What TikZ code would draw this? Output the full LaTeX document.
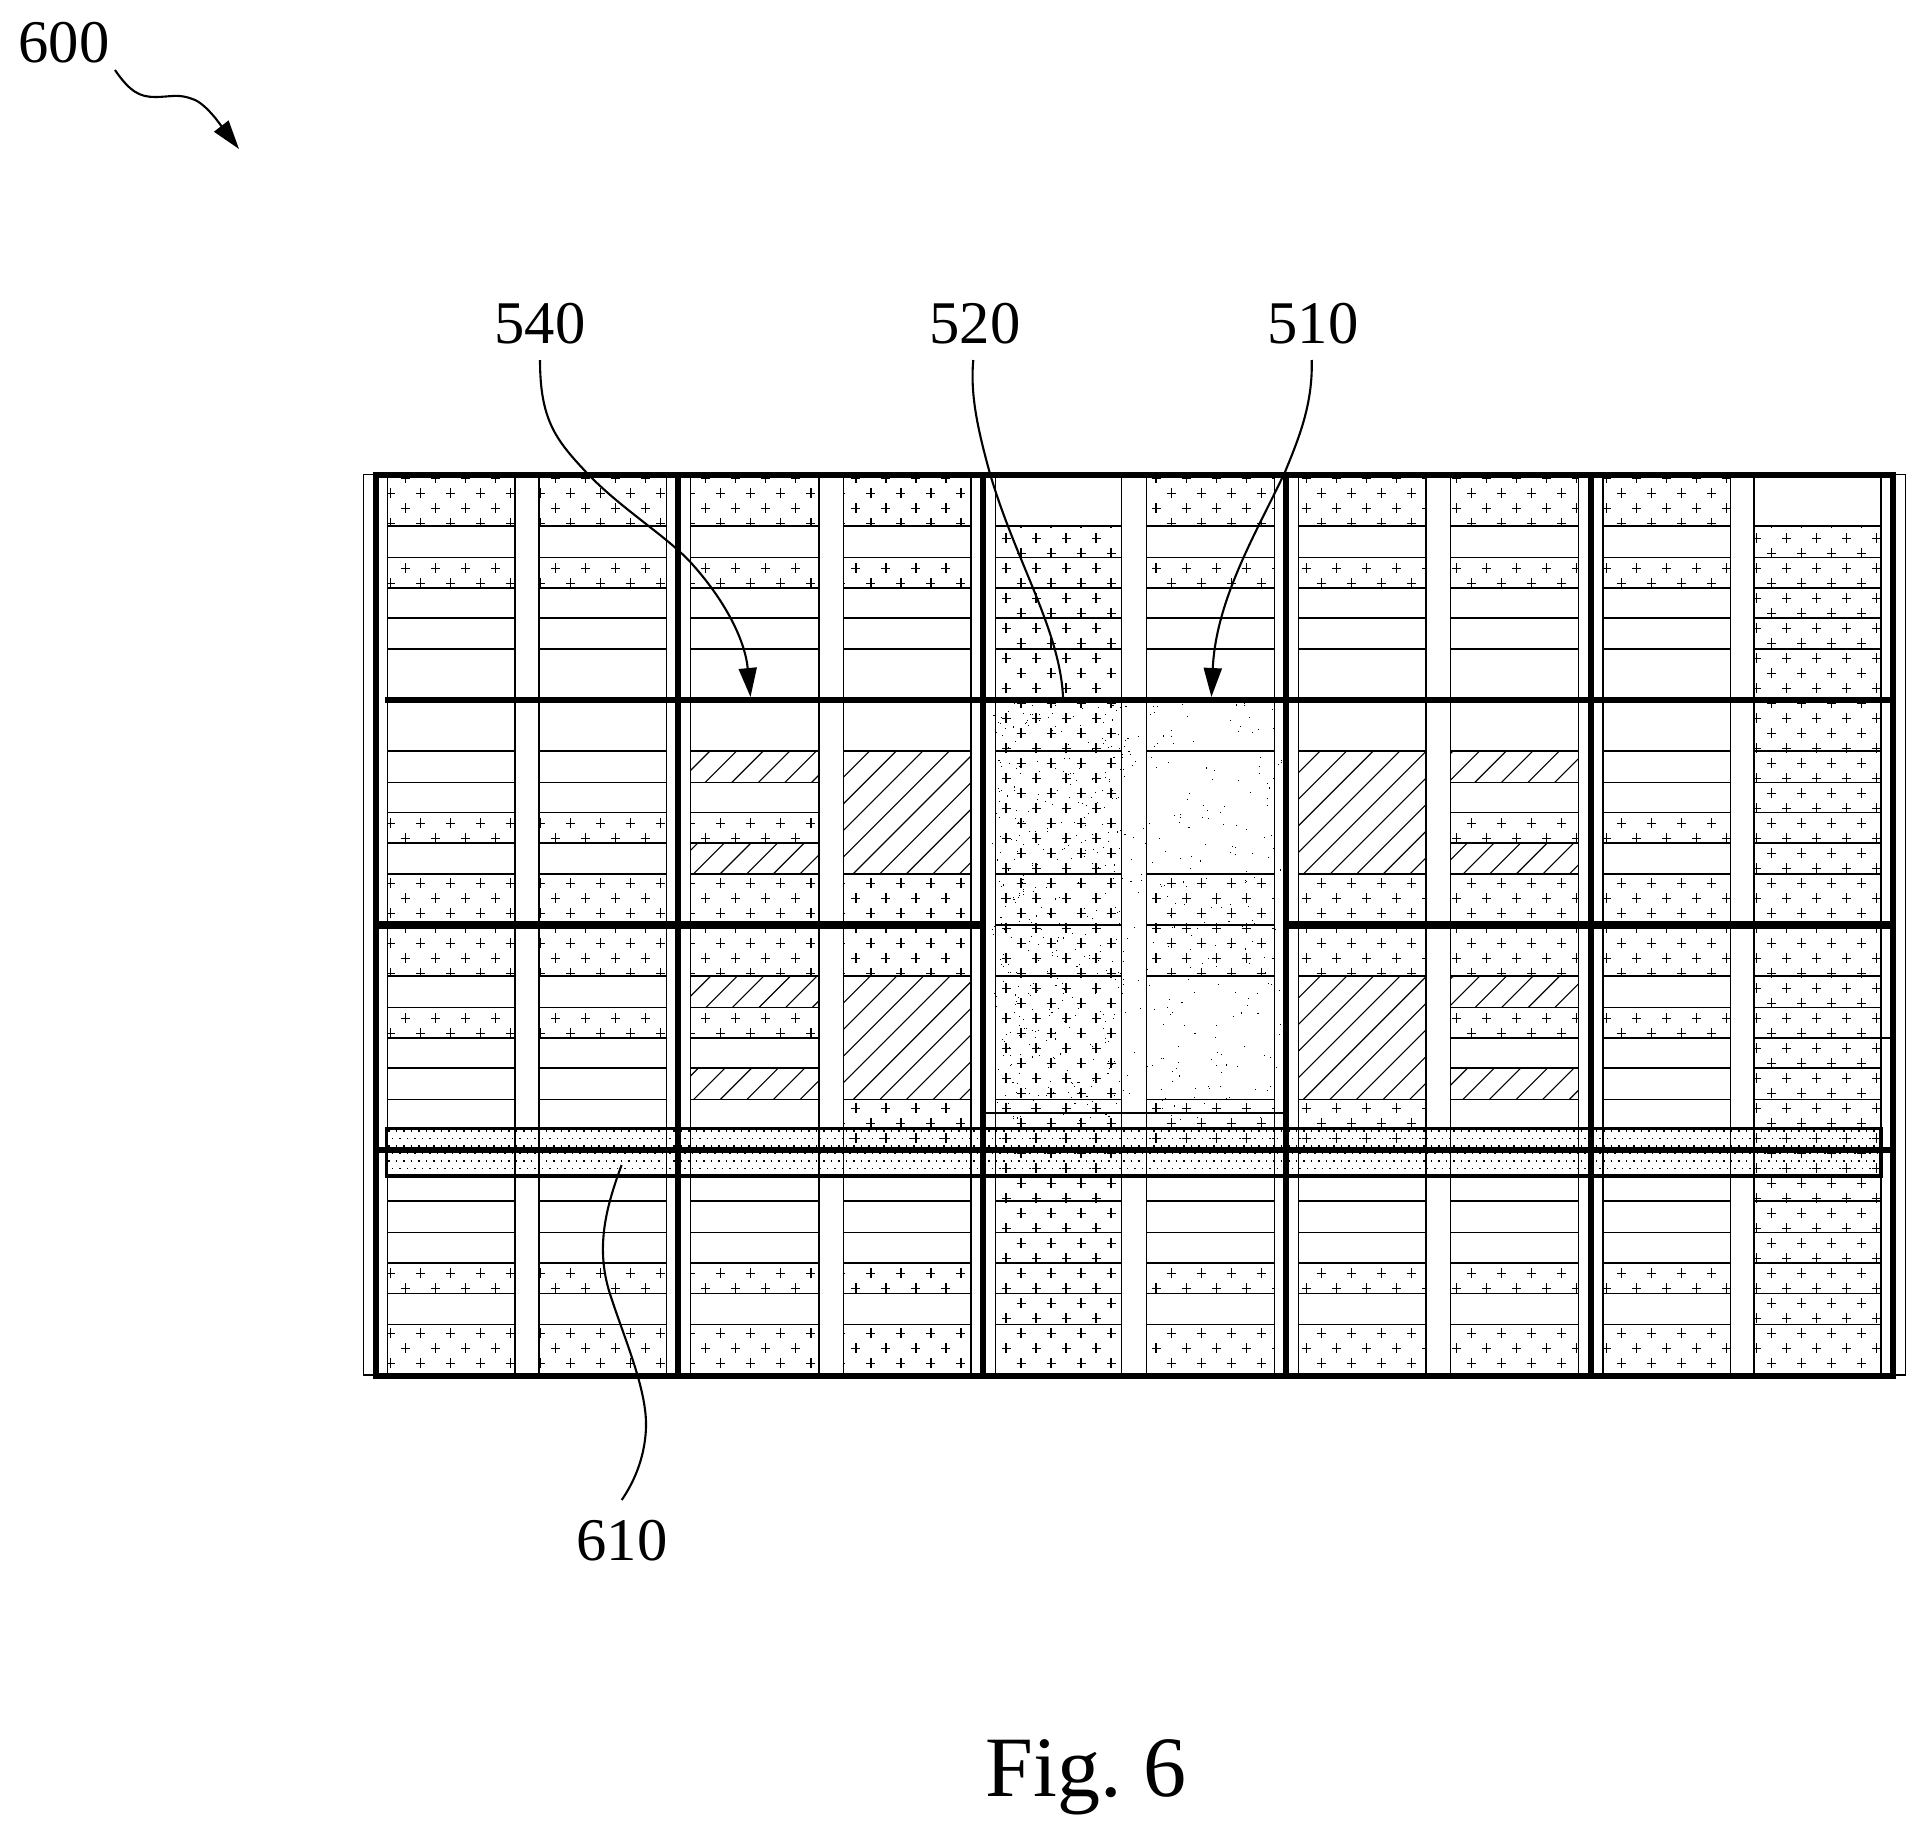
\documentclass[tikz,border=0pt]{standalone}
\usepackage{fontspec}
\setmainfont{Liberation Serif}
\usetikzlibrary{arrows.meta}
\tikzset{
  thinline/.style={line width=0.8pt},
  edgeline/.style={line width=0.6pt},
  hatchline/.style={line width=0.55pt},
  plusline/.style={line width=0.62pt},
  thick1/.style={line width=3pt},
  thick2/.style={line width=3.7pt},
  leader/.style={line width=1.05pt},
  leadarrow/.style={leader,-{Triangle[length=14.5pt,width=9pt]}},
  reflabel/.style={anchor=base,inner sep=0pt,font=\fontsize{30.3}{37}\selectfont},
  figlabel/.style={anchor=base,inner sep=0pt,font=\fontsize{43}{52}\selectfont},
  banddots/.style={line width=0.8pt,dash pattern=on 0.8pt off 2.95pt}
}
\frenchspacing
% plus marks on a global staggered grid, clipped to the cell
\newcommand{\pluscell}[4]{%
  \begin{scope}
    \clip (#1,#3) rectangle (#2,#4);
    \pgfmathtruncatemacro{\ja}{ceil((#3-5-478.3)/15)}
    \pgfmathtruncatemacro{\jb}{floor((#4+5-478.3)/15)}
    \foreach \j in {\ja,...,\jb}{
      \pgfmathsetmacro{\yy}{478.3+15*\j}
      \pgfmathsetmacro{\off}{ifthenelse(mod(\j,2)==1,390.6,405.6)}
      \pgfmathtruncatemacro{\ka}{ceil((#1-5-\off)/30.02)}
      \pgfmathtruncatemacro{\kb}{floor((#2+5-\off)/30.02)}
      \foreach \k in {\ka,...,\kb}{
        \pgfmathsetmacro{\xx}{\off+30.02*\k}
        \draw[plusline] (\xx-4.5,\yy) -- (\xx+4.5,\yy) (\xx,\yy-5) -- (\xx,\yy+5);
      }
    }
  \end{scope}}
% 45 degree hatching, x+y = base + 26.6 k
\newcommand{\hatchcell}[5]{%
  \begin{scope}
    \clip (#1,#3) rectangle (#2,#4);
    \pgfmathtruncatemacro{\ka}{ceil((#1+#3-#5)/26.6)}
    \pgfmathtruncatemacro{\kb}{floor((#2+#4-#5)/26.6)}
    \foreach \k in {\ka,...,\kb}{
      \pgfmathsetmacro{\cc}{#5+26.6*\k}
      \draw[hatchline] (\cc-#3,#3) -- (\cc-#4,#4);
    }
  \end{scope}}
\newcommand{\hlines}[3]{%
  \foreach \yy in {#3}{\draw[thinline] (#1,\yy) -- (#2,\yy);}}
\newcommand{\stipple}[6]{%
  \foreach \n in {1,...,#5}{
    \pgfmathsetmacro{\xx}{#1+rnd*(#2-#1)}
    \pgfmathsetmacro{\yy}{#3+rnd*(#4-#3)}
    \fill (\xx,\yy) rectangle ++(#6,#6);
  }}
\begin{document}
\begin{tikzpicture}[x=0.5pt,y=-0.5pt]
\useasboundingbox (0,0) rectangle (1926,1836);
\fill[white] (0,0) rectangle (1926,1836);
% outer thin rectangle
\draw[edgeline] (363.7,474.5) rectangle (1905.4,1375);
% plus marks
\foreach \xa/\xb in {387.7/515,539/666.3,690.4/818.9,1450.4/1578.7,1603/1730.5}{
  \foreach \ya/\yb in {475/526,557.3/587.7,812.3/842.7,874/976,1007.3/1037.7,1262.7/1293.3,1324.3/1376}{
    \pluscell{\xa}{\xb}{\ya}{\yb}
  }
}
\foreach \xa/\xb in {843.4/971,1146.7/1274.3,1298.6/1426}{
  \foreach \ya/\yb in {475/526,557.3/587.7,874/976,1099.3/1150,1262.7/1293.3,1324.3/1376}{
    \pluscell{\xa}{\xb}{\ya}{\yb}
  }
}
\pluscell{995.4}{1121.8}{526}{1376}
\pluscell{1754}{1881}{526}{1376}
% hatching
\hatchcell{690.4}{818.9}{751}{782.3}{1461}
\hatchcell{690.4}{818.9}{842.7}{874}{1461}
\hatchcell{690.4}{818.9}{976}{1007.3}{1846.3}
\hatchcell{690.4}{818.9}{1067.7}{1099.3}{1846.3}
\hatchcell{843.4}{971}{751}{874}{1461}
\hatchcell{843.4}{971}{976}{1099.3}{1846.3}
\hatchcell{1298.6}{1426}{751}{874}{2071}
\hatchcell{1298.6}{1426}{976}{1099.3}{2296.3}
\hatchcell{1450.4}{1578.7}{751}{782.3}{2071}
\hatchcell{1450.4}{1578.7}{842.7}{874}{2071}
\hatchcell{1450.4}{1578.7}{976}{1007.3}{2296.3}
\hatchcell{1450.4}{1578.7}{1067.7}{1099.3}{2296.3}
% stipple
\pgfmathsetseed{4242}
\stipple{992}{1124}{703}{1122}{420}{1.05}
\stipple{1122}{1147}{703}{1122}{30}{1.05}
\stipple{1147}{1285}{703}{1122}{200}{1.05}
% dotted band
\foreach \yy/\ph in {1131/0,1138.4/1.9,1146/0,1153.4/1.9,1161/0,1168.4/1.9}{
  \draw[banddots,dash phase=\ph pt] (388,\yy) -- (1880,\yy);
}
% thin vertical cell edges
\foreach \xx in {387.7,515,539,666.3,690.4,818.9,843.4,971,995.4,1121.8,1146.7,1274.3,1298.6,1426,1450.4,1578.7,1603,1730.5,1754,1881}{
  \draw[edgeline] (\xx,475) -- (\xx,1376);
}
% thin horizontal row lines
\foreach \xa/\xb in {387.7/515,539/666.3,690.4/818.9,1450.4/1578.7,1603/1730.5,1754/1881}{
  \hlines{\xa}{\xb}{526,557.3,587.7,617.7,649,751,782.3,812.3,842.7,874,976,1007.3,1037.7,1067.7,1099.3,1201,1232.3,1262.7,1293.3,1324.3}
}
\foreach \xa/\xb in {843.4/971,995.4/1121.8,1146.7/1274.3,1298.6/1426}{
  \hlines{\xa}{\xb}{526,557.3,587.7,617.7,649,751,874,976,1099.3,1201,1232.3,1262.7,1293.3,1324.3}
}
\draw[thinline] (995.4,925) -- (1121.8,925);
\draw[thinline] (1146.7,925) -- (1274.3,925);
\draw[thinline] (986,1112.7) -- (1283,1112.7);
\draw[thinline] (1881,1037.7) -- (1892,1037.7);
% band outline
\draw[line width=1.75pt] (386.7,1128.4) rectangle (1881,1176.2);
% thick vertical lines
\foreach \xx in {375.7,678,983.3,1286,1591,1893}{
  \draw[thick1] (\xx,472.5) -- (\xx,1378.5);
}
% thick horizontal lines
\draw[thick1] (373,475) -- (1896,475);
\draw[line width=2.7pt] (385,700) -- (1896,700);
\draw[thick2] (373,925) -- (985,925);
\draw[thick2] (1283,925) -- (1896,925);
\draw[thick1] (378,1150) -- (1896,1150);
\draw[line width=2.7pt] (373,1376) -- (1896,1376);
% labels
\node[reflabel] (n600) at (64,62.7) {600};
\node[reflabel] (n540) at (540,343.3) {540};
\node[reflabel] (n520) at (975,343.3) {520};
\node[reflabel] (n510) at (1313,343.3) {510};
\node[reflabel] (n610) at (622,1560) {610};
\node[figlabel] (fig) at (1086,1796.7) {Fig. 6};
% leaders
\coordinate (s600) at (115,70);
\coordinate (t600) at (239,149);
\coordinate (s540) at (540,360);
\coordinate (t540) at (750.5,697);
\coordinate (s520) at (973.3,360);
\coordinate (t520) at (1063,697);
\coordinate (s510) at (1311.7,360);
\coordinate (t510) at (1211.4,697);
\coordinate (s610) at (621.7,1500);
\coordinate (t610) at (621.6,1165);
\draw[leadarrow] (s600) .. controls (130,92) and (140,97) .. (155,97)
  .. controls (172,97) and (178,93) .. (195,100) .. controls (208,106) and (222,127) .. (t600);
\draw[leadarrow] (s540) .. controls (540,420) and (556,440) .. (586,472)
  .. controls (620,508) and (665,535) .. (690,561.7)
  .. controls (725,600) and (745,640) .. (t540);
\draw[leader] (s520) .. controls (970,395) and (978,430) .. (989.5,472)
  .. controls (1015,560) and (1060,630) .. (t520);
\draw[leadarrow] (s510) .. controls (1313,405) and (1298,440) .. (1285,472)
  .. controls (1255,535) and (1216,600) .. (t510);
\draw[leader] (t610) .. controls (605,1210) and (595,1250) .. (611,1297)
  .. controls (625,1340) and (647,1390) .. (646,1427)
  .. controls (645,1460) and (632,1485) .. (s610);
\end{tikzpicture}
\end{document}
